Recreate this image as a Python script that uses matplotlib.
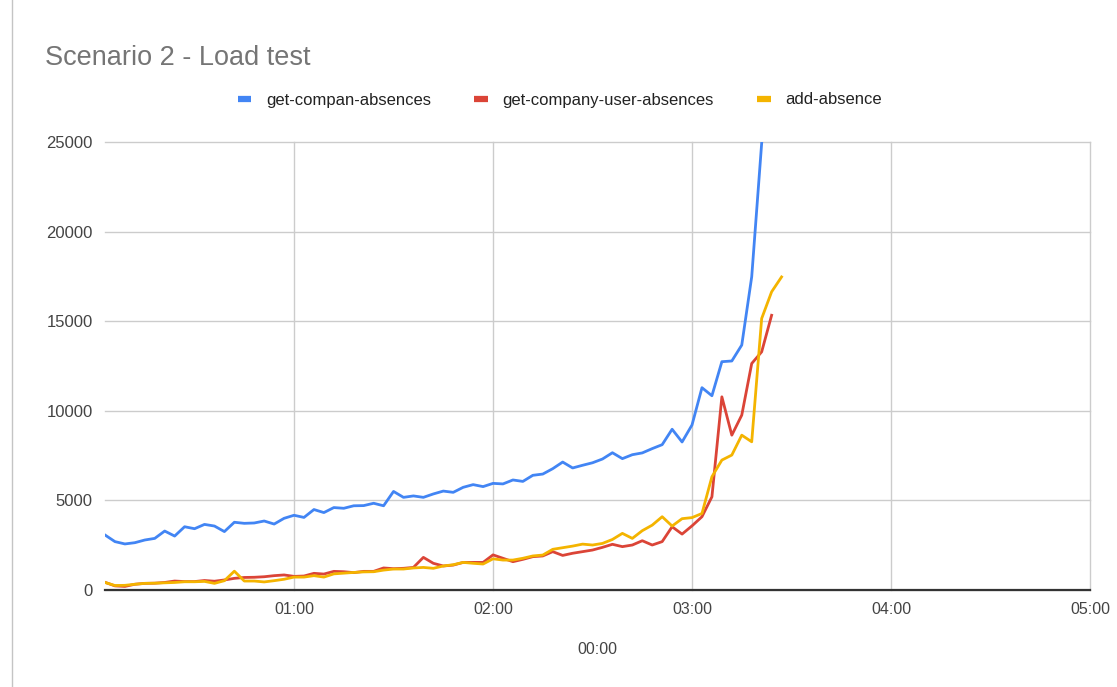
import numpy as np
import matplotlib
matplotlib.use("Agg")
import matplotlib.pyplot as plt
from matplotlib.lines import Line2D
from matplotlib.ticker import FuncFormatter

plt.rcParams["font.family"] = ["Liberation Sans", "DejaVu Sans"]

# Sampling of the load test (minutes since start)
first_minute = 3
step_minutes = 3

# Response times per endpoint (ms)
company_absences = [
    3070, 2700, 2570, 2640, 2790, 2880, 3290, 3010, 3530, 3420,
    3660, 3570, 3260, 3780, 3720, 3740, 3850, 3680, 4000, 4170,
    4050, 4490, 4320, 4600, 4560, 4700, 4710, 4840, 4700, 5500,
    5170, 5250, 5170, 5360, 5520, 5450, 5730, 5880, 5770, 5950,
    5920, 6140, 6060, 6400, 6470, 6770, 7140, 6810, 6960, 7100,
    7310, 7660, 7330, 7550, 7650, 7890, 8110, 8970, 8260, 9210,
    11290, 10840, 12740, 12780, 13670, 17480, 24930,
]
company_user_absences = [
    430, 230, 200, 320, 370, 380, 420, 500, 470, 470,
    530, 490, 560, 650, 700, 710, 740, 800, 840, 760,
    780, 930, 890, 1040, 1020, 970, 1040, 1040, 1230, 1190,
    1210, 1260, 1820, 1490, 1340, 1390, 1540, 1540, 1540, 1960,
    1770, 1580, 1710, 1860, 1900, 2140, 1930, 2050, 2140, 2230,
    2380, 2550, 2420, 2510, 2750, 2510, 2700, 3530, 3120, 3580,
    4090, 5200, 10780, 8640, 9760, 12640, 13290, 15330,
]
add_absence = [
    420, 250, 260, 320, 370, 380, 400, 420, 460, 460,
    480, 370, 520, 1050, 500, 500, 450, 520, 600, 720,
    720, 800, 720, 900, 940, 980, 1010, 1020, 1110, 1170,
    1170, 1230, 1260, 1210, 1340, 1410, 1540, 1490, 1450, 1740,
    1670, 1670, 1770, 1900, 1950, 2270, 2360, 2450, 2560, 2510,
    2600, 2820, 3160, 2880, 3310, 3620, 4090, 3570, 3980, 4040,
    4270, 6320, 7250, 7530, 8640, 8270, 15150, 16640, 17470,
]

series_names = ["get-compan-absences", "get-company-user-absences", "add-absence"]
series_values = [company_absences, company_user_absences, add_absence]
series_colors = ["#4285F4", "#DB4437", "#F4B400"]

hour_ticks = [60, 120, 180, 240, 300]
y_ticks = [0, 5000, 10000, 15000, 20000, 25000]

W, H = 1117, 687
fig = plt.figure(figsize=(W / 100, H / 100), dpi=100)
fig.patch.set_facecolor("white")

left, right, top, bottom = 105, 1090, 142, 590
ax = fig.add_axes([left / W, 1 - bottom / H, (right - left) / W, (bottom - top) / H])

for name, vals, color in zip(series_names, series_values, series_colors):
    t = first_minute + step_minutes * np.arange(len(vals))
    ax.plot(t, vals, color=color, lw=2.0, solid_joinstyle="round", label=name, zorder=3)

ax.set_xlim(first_minute, hour_ticks[-1])
ax.set_ylim(0, y_ticks[-1])
ax.set_xticks(hour_ticks)
ax.set_yticks(y_ticks)
ax.xaxis.set_major_formatter(FuncFormatter(lambda v, p: f"{int(v) // 60:02d}:{int(v) % 60:02d}"))
ax.yaxis.set_major_formatter(FuncFormatter(lambda v, p: f"{int(v)}"))

ax.grid(True, color="#cccccc", lw=1.0, zorder=0)
for gl in ax.get_xgridlines() + ax.get_ygridlines():
    gl.set_clip_on(False)

for s in ("left", "right", "top"):
    ax.spines[s].set_visible(False)
ax.spines["bottom"].set_color("#333333")
ax.spines["bottom"].set_linewidth(1.6)
ax.spines["bottom"].set_zorder(4)

ax.tick_params(axis="both", length=0, labelcolor="#444444")
ax.tick_params(axis="x", labelsize=11.5, pad=9)
ax.tick_params(axis="y", labelsize=12, pad=9)

ax.set_xlabel("00:00", fontsize=11.5, color="#444444")
ax.xaxis.label.set_va("center")
ax.xaxis.set_label_coords(0.5, (bottom - 650) / (bottom - top))

fig.text(45 / W, 1 - 65 / H, "Scenario 2 - Load test", fontsize=19.5,
         color="#757575", va="baseline", ha="left")

handles = [Line2D([], [], color=c, lw=4.5, solid_capstyle="butt") for c in series_colors]
fig.legend(handles, series_names, loc="center", bbox_to_anchor=(560 / W, 1 - 100 / H),
           ncol=3, frameon=False, fontsize=12, handlelength=0.8, handletextpad=0.9,
           columnspacing=2.6, labelcolor="#222222")

fig.add_artist(Line2D([12 / W, 12 / W], [0, 1], color="#c4c4c4", lw=1.0,
                      transform=fig.transFigure))

fig.savefig("out.png", dpi=100, facecolor="white")
